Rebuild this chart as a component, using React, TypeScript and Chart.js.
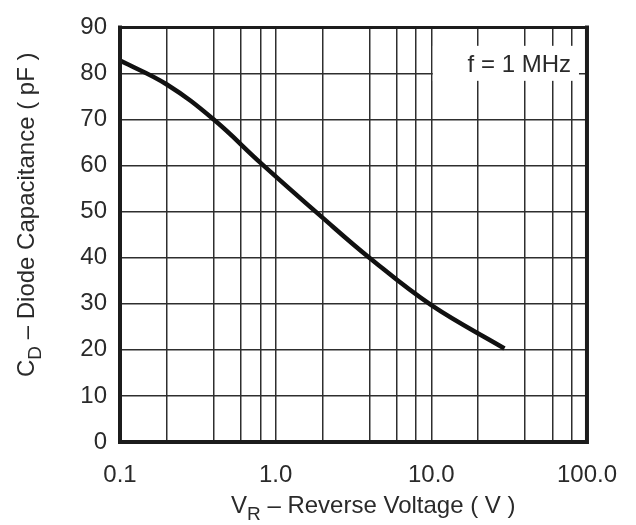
import React, { useEffect, useRef } from "react";
import { Chart, registerables } from "chart.js";

Chart.register(...registerables);

// Data
const voltage = [0.1, 0.2, 0.4, 0.8, 2, 4, 10, 29.5];
const capacitance = [82.8, 77.6, 70, 60.6, 48.7, 40, 29.7, 20.3];

// Grid / tick definitions
const xGridValues = [0.1, 0.2, 0.4, 0.6, 0.8, 1, 2, 4, 6, 8, 10, 20, 40, 60, 80, 100];
const xTickLabels = ["0.1", "", "", "", "", "1.0", "", "", "", "", "10.0", "", "", "", "", "100.0"];
const yMin = 0;
const yMax = 90;
const yStep = 10;

const noteText = "f = 1 MHz";
const FONT = "'Liberation Sans', Arial, Helvetica, sans-serif";
const INK = "#1c1c1c";
const FS = 24;

type Part = { t: string; sub?: boolean };
const xTitleParts: Part[] = [{ t: "V" }, { t: "R", sub: true }, { t: " – Reverse Voltage ( V )" }];
const yTitleParts: Part[] = [{ t: "C" }, { t: "D", sub: true }, { t: " – Diode Capacitance ( pF )" }];

function drawRich(ctx: CanvasRenderingContext2D, parts: Part[], size: number) {
  let u = 0;
  for (const p of parts) {
    const fs = p.sub ? Math.round(size * 0.8) : size;
    ctx.font = `${fs}px ${FONT}`;
    ctx.fillText(p.t, u, p.sub ? size * 0.3 : 0);
    u += ctx.measureText(p.t).width;
  }
}

const decorPlugin = {
  id: "decor",
  afterDatasetsDraw(chart: any) {
    const { ctx, chartArea: a } = chart;
    ctx.save();
    ctx.strokeStyle = INK;
    ctx.lineCap = "square";
    ctx.lineWidth = 3;
    ctx.beginPath();
    ctx.moveTo(a.left, a.top);
    ctx.lineTo(a.right, a.top);
    ctx.stroke();
    ctx.lineWidth = 4;
    ctx.beginPath();
    ctx.moveTo(a.left, a.top);
    ctx.lineTo(a.left, a.bottom);
    ctx.lineTo(a.right, a.bottom);
    ctx.lineTo(a.right, a.top);
    ctx.stroke();

    const xs = chart.scales.x;
    const ys = chart.scales.y;
    const bx = xs.getPixelForValue(10) + 1.5;
    const by = ys.getPixelForValue(86);
    const bw = a.right - 8 - bx;
    const bh = ys.getPixelForValue(78.4) - by;
    ctx.fillStyle = "#ffffff";
    ctx.fillRect(bx, by, bw, bh);
    ctx.fillStyle = "#2a2a2a";
    ctx.font = `${FS}px ${FONT}`;
    ctx.textAlign = "right";
    ctx.textBaseline = "alphabetic";
    ctx.fillText(noteText, a.right - 16, ys.getPixelForValue(80.3));
    ctx.restore();
  },
  afterDraw(chart: any) {
    const { ctx } = chart;
    ctx.save();
    ctx.fillStyle = "#2a2a2a";
    ctx.textAlign = "left";
    ctx.textBaseline = "alphabetic";
    ctx.save();
    ctx.translate(231, 513);
    drawRich(ctx, xTitleParts, FS);
    ctx.restore();
    ctx.save();
    ctx.translate(34, 377);
    ctx.rotate(-Math.PI / 2);
    drawRich(ctx, yTitleParts, FS);
    ctx.restore();
    ctx.restore();
  },
};

export default function App() {
  const ref = useRef<HTMLCanvasElement | null>(null);

  useEffect(() => {
    if (!ref.current) return;
    const chart = new Chart(ref.current, {
      type: "line",
      data: {
        datasets: [
          {
            data: voltage.map((v, i) => ({ x: v, y: capacitance[i] })),
            borderColor: "#111111",
            borderWidth: 4.5,
            pointRadius: 0,
            tension: 0.4,
            fill: false,
          },
        ],
      },
      options: {
        responsive: false,
        animation: false,
        layout: { padding: { top: 17, right: 48, left: 0, bottom: 0 } },
        plugins: { legend: { display: false }, tooltip: { enabled: false }, title: { display: false } },
        scales: {
          x: {
            type: "logarithmic",
            min: 0.1,
            max: 100,
            afterBuildTicks: (s: any) => {
              s.ticks = xGridValues.map((v) => ({ value: v }));
            },
            afterFit: (s: any) => {
              s.height = 525 - 442;
            },
            ticks: {
              autoSkip: false,
              maxRotation: 0,
              minRotation: 0,
              padding: 19,
              color: "#2a2a2a",
              font: { size: FS, family: FONT },
              callback: (_v: any, i: number) => xTickLabels[i] ?? "",
            },
            grid: { color: "#2e2e2e", lineWidth: 1.5, drawTicks: false },
            border: { display: false },
          },
          y: {
            type: "linear",
            min: yMin,
            max: yMax,
            afterFit: (s: any) => {
              s.width = 120;
            },
            ticks: {
              stepSize: yStep,
              padding: 13,
              color: "#2a2a2a",
              font: { size: FS, family: FONT },
            },
            grid: { color: "#2e2e2e", lineWidth: 1.5, drawTicks: false },
            border: { display: false },
          },
        },
      },
      plugins: [decorPlugin],
    } as any);
    return () => chart.destroy();
  }, []);

  return (
    <div style={{ position: "absolute", left: 0, top: 0, width: 636, height: 525, background: "#fff" }}>
      <canvas ref={ref} width={636} height={525} style={{ display: "block" }} />
    </div>
  );
}
